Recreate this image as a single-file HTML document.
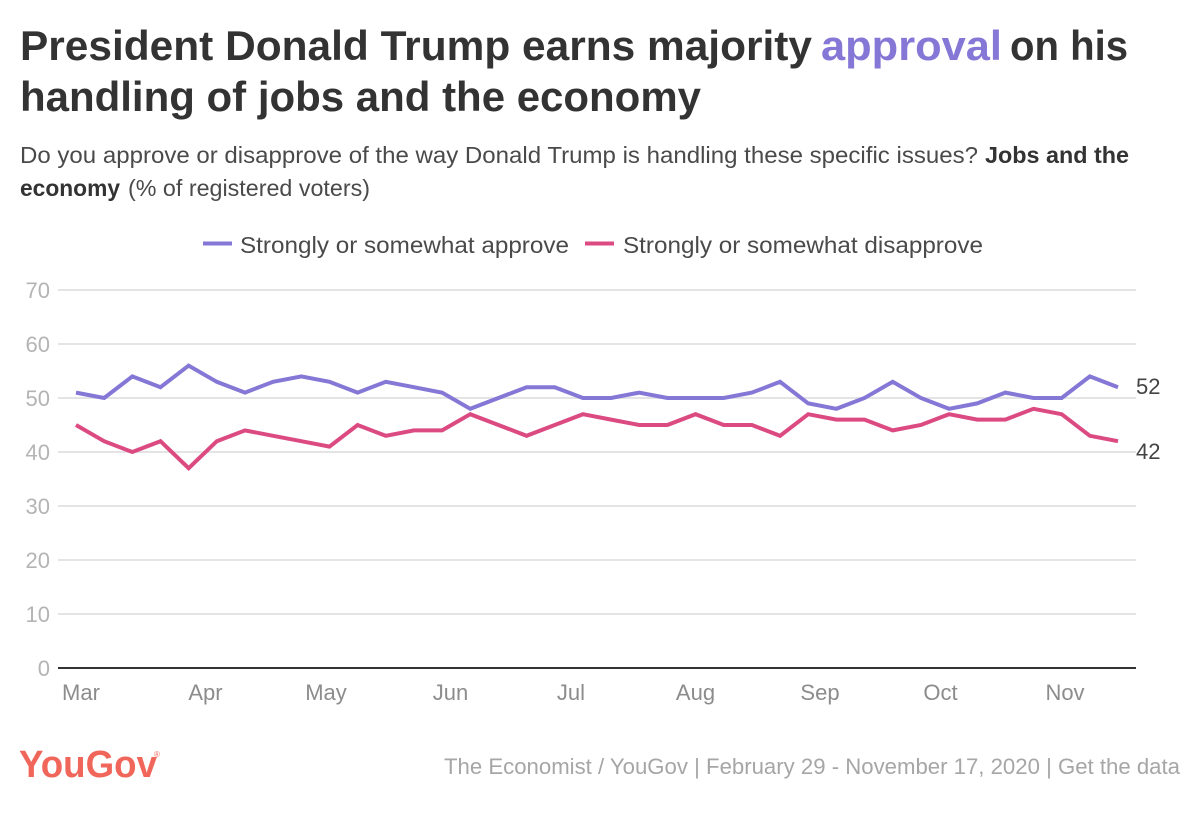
<!DOCTYPE html>
<html lang="en">
<head>
<meta charset="utf-8">
<title>President Donald Trump earns majority approval on his handling of jobs and the economy</title>
<style>
html,body{margin:0;padding:0;background:#fff;width:1200px;height:813px;overflow:hidden}
svg{display:block}
text{font-family:"Liberation Sans",sans-serif}
.title{font-size:42px;font-weight:700;fill:#333}
.sub{font-size:23px;fill:#4a4a4a}
.subb{font-size:23px;font-weight:700;fill:#333}
.leg{font-size:23px;fill:#4a4a4a}
.yt{font-size:22px;fill:#b4b4b4;text-anchor:end}
.xt{font-size:22px;fill:#8c8c8c;text-anchor:middle}
.end{font-size:22px;fill:#444}
.foot{font-size:22px;fill:#a6a6a6}
</style>
</head>
<body>
<svg id="chart" width="1200" height="813" viewBox="0 0 1200 813" xmlns="http://www.w3.org/2000/svg">
  <g>
    <text class="title" x="20" y="60" textLength="792" lengthAdjust="spacingAndGlyphs">President Donald Trump earns majority</text>
    <text class="title" x="821" y="60" textLength="181" lengthAdjust="spacingAndGlyphs" style="fill:#8577d6">approval</text>
    <text class="title" x="1010" y="60" textLength="118" lengthAdjust="spacingAndGlyphs">on his</text>
    <text class="title" x="20" y="111" textLength="681" lengthAdjust="spacingAndGlyphs">handling of jobs and the economy</text>
  </g>
  <g>
    <text class="sub" x="20" y="163" textLength="958" lengthAdjust="spacingAndGlyphs">Do you approve or disapprove of the way Donald Trump is handling these specific issues?</text>
    <text class="subb" x="985" y="163" textLength="144" lengthAdjust="spacingAndGlyphs">Jobs and the</text>
    <text class="subb" x="20" y="196" textLength="100" lengthAdjust="spacingAndGlyphs">economy</text>
    <text class="sub" x="128" y="196" textLength="242" lengthAdjust="spacingAndGlyphs">(% of registered voters)</text>
  </g>
  <g>
    <line x1="203" y1="243.500" x2="232" y2="243.500" stroke="#8577d6" stroke-width="4"/>
    <text class="leg" x="240" y="253" textLength="329" lengthAdjust="spacingAndGlyphs">Strongly or somewhat approve</text>
    <line x1="585" y1="243.500" x2="614" y2="243.500" stroke="#dc4a82" stroke-width="4"/>
    <text class="leg" x="623" y="253" textLength="360" lengthAdjust="spacingAndGlyphs">Strongly or somewhat disapprove</text>
  </g>
  <g id="grid"></g>
  <g id="ylabels"></g>
  <g id="xlabels"></g>
  <g id="series"></g>
  <g id="endlabels"></g>
  <g>
    <text x="19" y="777" textLength="138" lengthAdjust="spacingAndGlyphs" style="font-size:38px;font-weight:700;fill:#f0665a">YouGov</text>
    <text x="154" y="757" style="font-size:8px;fill:#f0665a">®</text>
  </g>
  <text class="foot" x="444" y="774" textLength="736" lengthAdjust="spacingAndGlyphs">The Economist / YouGov | February 29 - November 17, 2020 | Get the data</text>
</svg>
<script>
const yTicks = [0, 10, 20, 30, 40, 50, 60, 70];
const monthLabels = ['Mar', 'Apr', 'May', 'Jun', 'Jul', 'Aug', 'Sep', 'Oct', 'Nov'];
const monthDays = [0, 31, 61, 92, 122, 153, 184, 214, 245];
const approve = [51,50,54,52,56,53,51,53,54,53,51,53,52,51,48,50,52,52,50,50,51,50,50,50,51,53,49,48,50,53,50,48,49,51,50,50,54,52];
const disapprove = [45,42,40,42,37,42,44,43,42,41,45,43,44,44,47,45,43,45,47,46,45,45,47,45,45,43,47,46,46,44,45,47,46,46,48,47,43,42];

const NS = 'http://www.w3.org/2000/svg';
const yScale = function (v) { return 668 - v * 5.4; };
const xScale = function (i, n) { return 76 + i * (1042 / (n - 1)); };
const dayScale = function (d) { return 81 + d * (984 / 245); };

const grid = document.getElementById('grid');
const ylabels = document.getElementById('ylabels');
yTicks.forEach(function (t) {
  const ln = document.createElementNS(NS, 'line');
  
  
  ln.setAttribute('x1', 58);
  ln.setAttribute('x2', 1136);
  ln.setAttribute('y1', yScale(t));
  ln.setAttribute('y2', yScale(t));
  ln.setAttribute('stroke', t === 0 ? '#333' : '#e4e4e4');
  ln.setAttribute('stroke-width', 2);
  grid.appendChild(ln);
  const tx = document.createElementNS(NS, 'text');
  
  
  tx.setAttribute('class', 'yt');
  tx.setAttribute('x', 50);
  tx.setAttribute('y', yScale(t) + 8);
  tx.textContent = t;
  ylabels.appendChild(tx);
});

const xlabels = document.getElementById('xlabels');
monthLabels.forEach(function (m, i) {
  const tx = document.createElementNS(NS, 'text');
  
  
  tx.setAttribute('class', 'xt');
  tx.setAttribute('x', dayScale(monthDays[i]));
  tx.setAttribute('y', 700);
  tx.textContent = m;
  xlabels.appendChild(tx);
});

const seriesGroup = document.getElementById('series');
const endGroup = document.getElementById('endlabels');

const approveLine = document.createElementNS(NS, 'polyline');


approveLine.setAttribute('fill', 'none');
approveLine.setAttribute('stroke', '#8577d6');
approveLine.setAttribute('stroke-width', 4);
approveLine.setAttribute('stroke-linejoin', 'miter');
approveLine.setAttribute('points', approve.map(function (v, i) { return xScale(i, approve.length) + ',' + yScale(v); }).join(' '));
seriesGroup.appendChild(approveLine);

const disapproveLine = document.createElementNS(NS, 'polyline');


disapproveLine.setAttribute('fill', 'none');
disapproveLine.setAttribute('stroke', '#dc4a82');
disapproveLine.setAttribute('stroke-width', 4);
disapproveLine.setAttribute('stroke-linejoin', 'miter');
disapproveLine.setAttribute('points', disapprove.map(function (v, i) { return xScale(i, disapprove.length) + ',' + yScale(v); }).join(' '));
seriesGroup.appendChild(disapproveLine);

const approveEnd = document.createElementNS(NS, 'text');


approveEnd.setAttribute('class', 'end');
approveEnd.setAttribute('x', 1136);
approveEnd.setAttribute('y', yScale(approve[approve.length - 1]) + 7);
approveEnd.textContent = approve[approve.length - 1];
endGroup.appendChild(approveEnd);

const disapproveEnd = document.createElementNS(NS, 'text');


disapproveEnd.setAttribute('class', 'end');
disapproveEnd.setAttribute('x', 1136);
disapproveEnd.setAttribute('y', yScale(disapprove[disapprove.length - 1]) + 18);
disapproveEnd.textContent = disapprove[disapprove.length - 1];
endGroup.appendChild(disapproveEnd);
</script>
</body>
</html>
